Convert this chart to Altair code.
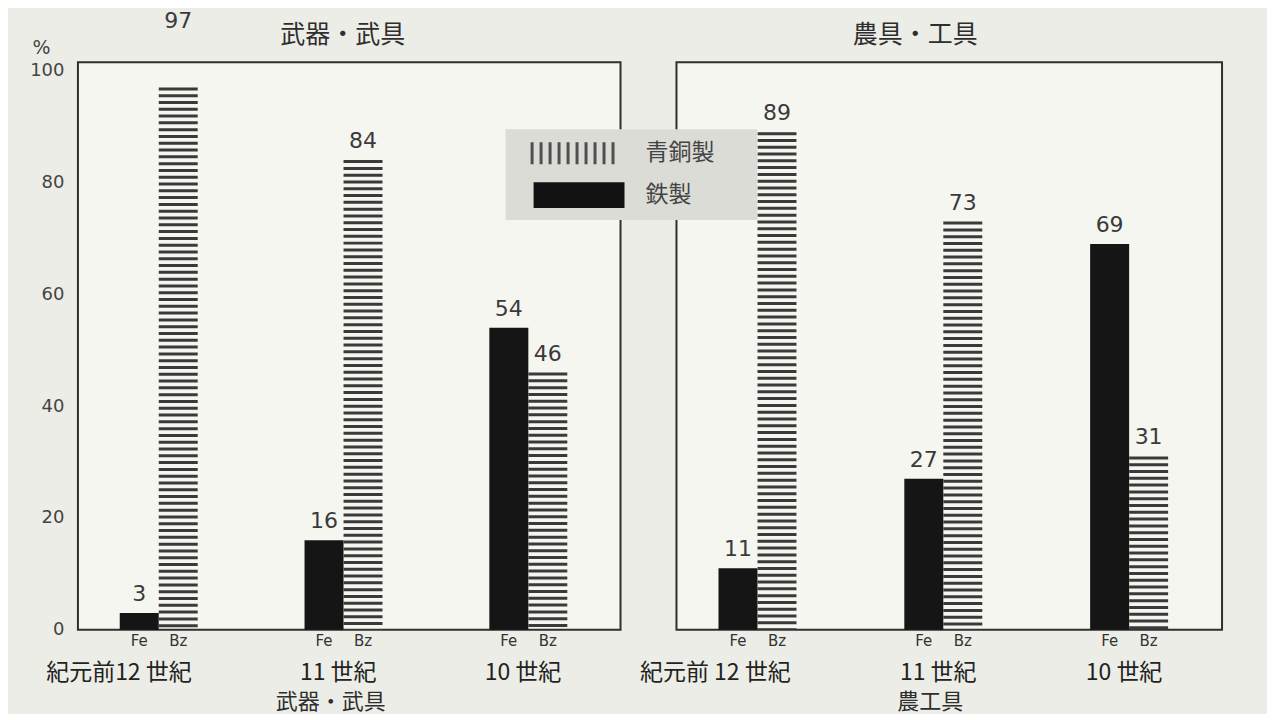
import altair as alt
import pandas as pd

# ---- data ----
periods_w = ["紀元前12 世紀", "11 世紀", "10 世紀"]
periods_t = ["紀元前 12 世紀", "11 世紀", "10 世紀"]
metals = ["Fe", "Bz"]
weapons_fe = [3, 16, 54]
weapons_bz = [97, 84, 46]
tools_fe = [11, 27, 69]
tools_bz = [89, 73, 31]
y_ticks = [0, 20, 40, 60, 80, 100]
legend_labels = ["青銅製", "鉄製"]
panel_titles = ["武器・武具", "農具・工具"]
panel_subtitles = ["武器・武具", "農工具"]

JP = "Noto Sans CJK JP"
NUM = "DejaVu Sans"
TXT = "#2e2e2e"


def frame(periods, fe, bz):
    rows = []
    for p, f, b in zip(periods, fe, bz):
        rows.append({"period": p, "metal": "Fe", "value": f})
        rows.append({"period": p, "metal": "Bz", "value": b})
    return pd.DataFrame(rows)


H = 568
YMAX = 101.5
BAR_W = 39


def panel(df, periods, title, subtitle, width, show_y, title_x, sub_x, extra=()):
    x = alt.X("period:N", sort=periods,
              scale=alt.Scale(paddingInner=0.578, paddingOuter=0.257, align=0.44),
              axis=None)
    xo = alt.XOffset("metal:N", sort=metals,
                     scale=alt.Scale(paddingInner=0, paddingOuter=0))
    ys = alt.Scale(domain=[0, YMAX], nice=False)
    if show_y:
        ya = alt.Axis(values=y_ticks, title="%", titleAngle=0, titleX=-37, titleY=-15,
                      titleAlign="center", titleBaseline="middle", titleFontSize=19,
                      titleFont=NUM, titleFontWeight="normal", titleColor="#444",
                      labelFontSize=18, labelFont=NUM, labelColor="#444",
                      labelPadding=14, ticks=False, domain=False, grid=False)
    else:
        ya = None

    base = alt.Chart(df)
    fe = base.transform_filter("datum.metal == 'Fe'").mark_bar(
        color="#151515").encode(
        x=x, xOffset=xo, y=alt.Y("value:Q", scale=ys, axis=ya))
    bz = base.transform_filter("datum.metal == 'Bz'").mark_rule(
        strokeWidth=BAR_W, strokeDash=[3, 3.8], strokeCap="butt",
        color="#3a3a3a").encode(
        x=x, xOffset=xo, y=alt.Y("value:Q", scale=ys, axis=ya), y2=alt.datum(0))
    vals = base.transform_calculate(
        ly="datum.value > 95 ? 105.5 : datum.value").mark_text(
        baseline="bottom", dy=-7, fontSize=22, font=NUM, color="#3a3a3a").encode(
        x=x, xOffset=xo, y=alt.Y("ly:Q", scale=ys, axis=ya), text="value:Q")
    met = base.mark_text(fontSize=15, font=NUM, color="#333",
                         baseline="middle").encode(
        x=x, xOffset=xo, y=alt.value(H + 11), text="metal:N")
    per = base.transform_filter("datum.metal == 'Fe'").mark_text(
        fontSize=23, font=JP, color="#222", baseline="middle",
        align="right", dx=33).encode(
        x=x, y=alt.value(H + 43), text="period:N")

    one = alt.Chart(pd.DataFrame({"k": [0]}))
    ttl = one.mark_text(fontSize=25, font=JP, color=TXT, baseline="middle").encode(
        x=alt.value(title_x), y=alt.value(-27), text=alt.value(title))
    sub = one.mark_text(fontSize=22, font=JP, color=TXT, baseline="middle").encode(
        x=alt.value(sub_x), y=alt.value(H + 72), text=alt.value(subtitle))

    layers = [fe, bz, vals, met, per, ttl, sub] + list(extra)
    return alt.layer(*layers).properties(width=width, height=H)


one = alt.Chart(pd.DataFrame({"k": [0]}))
legend_bg = one.mark_rect(color="#dcdcd7").encode(
    x=alt.value(-171), x2=alt.value(81), y=alt.value(67), y2=alt.value(158))
legend_stripes = one.mark_rule(strokeWidth=22, strokeDash=[3, 6], strokeCap="butt",
                               color="#505050").encode(
    x=alt.value(-146), x2=alt.value(-58), y=alt.value(91))
legend_black = one.mark_rect(color="#121212").encode(
    x=alt.value(-143), x2=alt.value(-52), y=alt.value(120), y2=alt.value(146))
legend_t1 = one.mark_text(align="left", baseline="middle", fontSize=23, font=JP,
                          color="#444").encode(
    x=alt.value(-31), y=alt.value(91), text=alt.value(legend_labels[0]))
legend_t2 = one.mark_text(align="left", baseline="middle", fontSize=23, font=JP,
                          color="#444").encode(
    x=alt.value(-31), y=alt.value(133), text=alt.value(legend_labels[1]))

left = panel(frame(periods_w, weapons_fe, weapons_bz), periods_w,
             panel_titles[0], panel_subtitles[0], 543, True, 265, 253)
right = panel(frame(periods_t, tools_fe, tools_bz), periods_t,
              panel_titles[1], panel_subtitles[1], 546, False, 239, 254,
              extra=(legend_bg, legend_stripes, legend_black, legend_t1, legend_t2))

chart = alt.hconcat(left, right, spacing=56, bounds="flush").properties(
    background="#ededE7",
    padding={"left": 20, "top": 0, "right": 44, "bottom": 0},
).configure_view(
    stroke="#2f2f2f", strokeWidth=2, fill="#f6f6f1"
)

chart.save("out.html", embed_options={"renderer": "svg", "actions": False})
